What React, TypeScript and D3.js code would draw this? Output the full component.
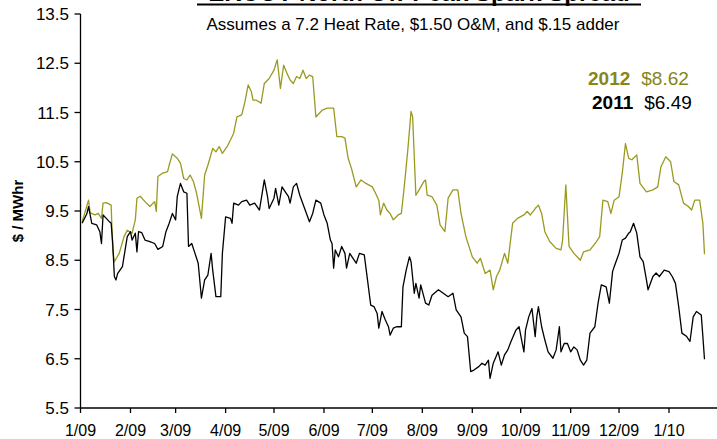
import React from "react";
import * as d3 from "d3";

const title = "ERCOT North Off-Peak Spark Spread";
const subtitle = "Assumes a 7.2 Heat Rate, $1.50 O&M, and $.15 adder";
const yTicks = [5.5, 6.5, 7.5, 8.5, 9.5, 10.5, 11.5, 12.5, 13.5];
const yLabel = "$ / MWhr";

const series2012: [string, number][] = [
  ["2009-01-02", 9.28], ["2009-01-06", 9.72], ["2009-01-07", 9.46], ["2009-01-10", 9.42], ["2009-01-12", 9.45],
  ["2009-01-14", 9.35], ["2009-01-15", 9.66], ["2009-01-17", 9.67], ["2009-01-20", 9.62], ["2009-01-21", 8.71],
  ["2009-01-22", 8.47], ["2009-01-25", 8.64], ["2009-01-28", 8.98], ["2009-01-30", 9.11], ["2009-02-02", 9.05],
  ["2009-02-04", 9.32], ["2009-02-05", 9.76], ["2009-02-07", 9.8], ["2009-02-10", 9.69], ["2009-02-13", 9.59],
  ["2009-02-16", 9.69], ["2009-02-17", 9.49], ["2009-02-18", 10.2], ["2009-02-21", 10.27], ["2009-02-24", 10.3],
  ["2009-02-25", 10.43], ["2009-02-27", 10.66], ["2009-03-02", 10.57], ["2009-03-04", 10.47], ["2009-03-06", 10.16],
  ["2009-03-08", 10.13], ["2009-03-10", 10.23], ["2009-03-12", 10.1], ["2009-03-14", 9.86], ["2009-03-17", 9.35],
  ["2009-03-19", 10.23], ["2009-03-21", 10.43], ["2009-03-24", 10.77], ["2009-03-26", 10.7], ["2009-03-28", 10.81],
  ["2009-03-30", 10.67], ["2009-04-02", 10.81], ["2009-04-04", 10.94], ["2009-04-06", 11.08], ["2009-04-08", 11.41],
  ["2009-04-11", 11.45], ["2009-04-13", 11.72], ["2009-04-15", 12.06], ["2009-04-17", 11.92], ["2009-04-18", 11.75],
  ["2009-04-20", 11.75], ["2009-04-23", 11.69], ["2009-04-25", 12.09], ["2009-04-28", 12.19], ["2009-05-01", 12.36],
  ["2009-05-03", 12.57], ["2009-05-05", 11.99], ["2009-05-07", 12.46], ["2009-05-09", 12.3], ["2009-05-11", 12.16],
  ["2009-05-13", 12.09], ["2009-05-15", 12.23], ["2009-05-17", 12.19], ["2009-05-19", 12.36], ["2009-05-21", 12.19],
  ["2009-05-23", 12.26], ["2009-05-25", 12.23], ["2009-05-27", 11.41], ["2009-05-29", 11.48], ["2009-05-31", 11.55],
  ["2009-06-03", 11.59], ["2009-06-07", 11.59], ["2009-06-09", 11.01], ["2009-06-12", 11.01], ["2009-06-14", 10.98],
  ["2009-06-16", 10.57], ["2009-06-18", 10.37], ["2009-06-21", 9.99], ["2009-06-24", 10.13], ["2009-06-27", 10.06],
  ["2009-07-01", 9.99], ["2009-07-03", 9.86], ["2009-07-05", 9.72], ["2009-07-06", 9.42], ["2009-07-08", 9.66],
  ["2009-07-10", 9.52], ["2009-07-12", 9.45], ["2009-07-14", 9.32], ["2009-07-17", 9.42], ["2009-07-19", 9.45],
  ["2009-07-21", 10.06], ["2009-07-23", 10.74], ["2009-07-25", 11.52], ["2009-07-26", 11.41], ["2009-07-27", 10.6],
  ["2009-07-28", 9.82], ["2009-07-30", 9.93], ["2009-08-02", 10.1], ["2009-08-03", 10.13], ["2009-08-04", 9.82],
  ["2009-08-07", 9.79], ["2009-08-10", 9.62], ["2009-08-12", 9.22], ["2009-08-15", 9.08], ["2009-08-17", 9.76],
  ["2009-08-20", 9.93], ["2009-08-23", 9.93], ["2009-08-25", 9.45], ["2009-08-28", 8.98], ["2009-09-01", 8.57],
  ["2009-09-04", 8.44], ["2009-09-06", 8.54], ["2009-09-09", 8.23], ["2009-09-12", 8.3], ["2009-09-14", 7.9],
  ["2009-09-16", 8.17], ["2009-09-18", 8.3], ["2009-09-21", 8.64], ["2009-09-23", 8.44], ["2009-09-24", 8.71],
  ["2009-09-26", 9.25], ["2009-09-29", 9.35], ["2009-10-03", 9.42], ["2009-10-05", 9.49], ["2009-10-07", 9.42],
  ["2009-10-10", 9.55], ["2009-10-12", 9.62], ["2009-10-14", 9.45], ["2009-10-16", 9.08], ["2009-10-19", 8.88],
  ["2009-10-23", 8.74], ["2009-10-26", 8.71], ["2009-10-27", 8.91], ["2009-10-29", 10.03], ["2009-10-31", 8.78],
  ["2009-11-03", 8.64], ["2009-11-07", 8.5], ["2009-11-09", 8.67], ["2009-11-13", 8.71], ["2009-11-17", 8.88],
  ["2009-11-19", 8.98], ["2009-11-21", 9.72], ["2009-11-24", 9.69], ["2009-11-26", 9.45], ["2009-11-28", 9.72],
  ["2009-12-01", 9.79], ["2009-12-03", 10.27], ["2009-12-05", 10.87], ["2009-12-07", 10.57], ["2009-12-09", 10.54],
  ["2009-12-12", 10.64], ["2009-12-14", 10.06], ["2009-12-18", 9.89], ["2009-12-22", 9.93], ["2009-12-25", 9.99],
  ["2009-12-27", 10.4], ["2009-12-30", 10.6], ["2010-01-02", 10.5], ["2010-01-04", 10.1], ["2010-01-07", 10.03],
  ["2010-01-10", 9.66], ["2010-01-13", 9.59], ["2010-01-15", 9.52], ["2010-01-17", 9.72], ["2010-01-20", 9.72],
  ["2010-01-22", 9.25], ["2010-01-23", 8.62],
];

const series2011: [string, number][] = [
  ["2009-01-02", 9.25], ["2009-01-05", 9.45], ["2009-01-06", 9.59], ["2009-01-08", 9.25], ["2009-01-11", 9.22],
  ["2009-01-13", 9.08], ["2009-01-14", 8.84], ["2009-01-15", 9.42], ["2009-01-17", 9.35], ["2009-01-19", 9.28],
  ["2009-01-20", 9.25], ["2009-01-21", 8.84], ["2009-01-22", 8.17], ["2009-01-23", 8.1], ["2009-01-24", 8.23],
  ["2009-01-27", 8.37], ["2009-01-30", 8.98], ["2009-02-01", 9.08], ["2009-02-02", 8.91], ["2009-02-04", 9.05],
  ["2009-02-05", 8.67], ["2009-02-06", 9.08], ["2009-02-08", 9.06], ["2009-02-10", 8.91], ["2009-02-13", 8.88],
  ["2009-02-16", 8.84], ["2009-02-18", 8.72], ["2009-02-21", 8.78], ["2009-02-23", 9.08], ["2009-02-25", 9.25],
  ["2009-02-27", 9.45], ["2009-03-01", 9.32], ["2009-03-02", 9.79], ["2009-03-04", 10.06], ["2009-03-06", 9.89],
  ["2009-03-08", 9.86], ["2009-03-09", 8.78], ["2009-03-11", 8.84], ["2009-03-13", 8.64], ["2009-03-15", 8.44],
  ["2009-03-17", 7.73], ["2009-03-19", 8.1], ["2009-03-21", 8.2], ["2009-03-23", 8.64], ["2009-03-24", 8.3],
  ["2009-03-26", 7.76], ["2009-03-29", 7.76], ["2009-03-30", 8.64], ["2009-04-01", 9.38], ["2009-04-04", 9.35],
  ["2009-04-05", 9.25], ["2009-04-06", 9.66], ["2009-04-09", 9.62], ["2009-04-11", 9.69], ["2009-04-14", 9.72],
  ["2009-04-16", 9.62], ["2009-04-19", 9.66], ["2009-04-22", 9.52], ["2009-04-24", 9.93], ["2009-04-25", 10.13],
  ["2009-04-27", 9.79], ["2009-04-28", 9.55], ["2009-05-01", 9.76], ["2009-05-02", 9.96], ["2009-05-04", 9.62],
  ["2009-05-06", 9.99], ["2009-05-08", 9.89], ["2009-05-10", 9.79], ["2009-05-11", 9.66], ["2009-05-13", 9.99],
  ["2009-05-15", 10.06], ["2009-05-17", 9.82], ["2009-05-20", 9.55], ["2009-05-23", 9.28], ["2009-05-25", 9.45],
  ["2009-05-27", 9.72], ["2009-05-30", 9.66], ["2009-06-01", 9.42], ["2009-06-03", 9.25], ["2009-06-05", 8.91],
  ["2009-06-06", 8.84], ["2009-06-07", 8.34], ["2009-06-08", 8.71], ["2009-06-10", 8.57], ["2009-06-12", 8.78],
  ["2009-06-14", 8.64], ["2009-06-15", 8.34], ["2009-06-17", 8.64], ["2009-06-19", 8.54], ["2009-06-21", 8.44],
  ["2009-06-23", 8.64], ["2009-06-26", 8.61], ["2009-06-28", 8.1], ["2009-06-30", 7.59], ["2009-07-02", 7.56],
  ["2009-07-04", 7.42], ["2009-07-05", 7.12], ["2009-07-07", 7.46], ["2009-07-09", 7.29], ["2009-07-11", 7.15],
  ["2009-07-12", 6.98], ["2009-07-14", 7.12], ["2009-07-16", 7.15], ["2009-07-19", 7.15], ["2009-07-20", 7.96],
  ["2009-07-22", 8.3], ["2009-07-24", 8.57], ["2009-07-25", 8.47], ["2009-07-27", 7.83], ["2009-07-28", 8.03],
  ["2009-07-30", 7.73], ["2009-07-31", 8.0], ["2009-08-03", 7.63], ["2009-08-05", 7.59], ["2009-08-07", 7.79],
  ["2009-08-11", 7.9], ["2009-08-14", 7.83], ["2009-08-17", 7.76], ["2009-08-20", 7.83], ["2009-08-22", 7.49],
  ["2009-08-25", 7.35], ["2009-08-27", 7.02], ["2009-08-29", 6.95], ["2009-08-31", 6.24], ["2009-09-02", 6.27],
  ["2009-09-05", 6.34], ["2009-09-07", 6.41], ["2009-09-09", 6.37], ["2009-09-11", 6.47], ["2009-09-12", 6.1],
  ["2009-09-14", 6.41], ["2009-09-17", 6.64], ["2009-09-19", 6.37], ["2009-09-21", 6.58], ["2009-09-23", 6.68],
  ["2009-09-25", 6.85], ["2009-09-28", 7.08], ["2009-09-30", 7.15], ["2009-10-01", 6.98], ["2009-10-03", 6.64],
  ["2009-10-04", 7.08], ["2009-10-06", 7.35], ["2009-10-08", 7.52], ["2009-10-10", 6.95], ["2009-10-11", 7.35],
  ["2009-10-12", 7.56], ["2009-10-14", 7.15], ["2009-10-16", 6.88], ["2009-10-18", 6.64], ["2009-10-21", 6.51],
  ["2009-10-23", 6.68], ["2009-10-25", 7.15], ["2009-10-26", 6.64], ["2009-10-28", 6.81], ["2009-10-30", 6.81],
  ["2009-11-01", 6.64], ["2009-11-03", 6.74], ["2009-11-05", 6.68], ["2009-11-07", 6.47], ["2009-11-09", 6.37],
  ["2009-11-11", 6.47], ["2009-11-13", 7.02], ["2009-11-16", 7.15], ["2009-11-18", 7.63], ["2009-11-20", 8.0],
  ["2009-11-23", 7.96], ["2009-11-25", 7.63], ["2009-11-27", 8.27], ["2009-11-28", 8.37], ["2009-12-01", 8.64],
  ["2009-12-03", 8.91], ["2009-12-05", 8.95], ["2009-12-07", 9.05], ["2009-12-08", 9.08], ["2009-12-10", 9.25],
  ["2009-12-12", 9.05], ["2009-12-14", 8.57], ["2009-12-16", 8.47], ["2009-12-18", 8.1], ["2009-12-19", 7.9],
  ["2009-12-22", 8.17], ["2009-12-24", 8.24], ["2009-12-26", 8.17], ["2009-12-29", 8.3], ["2010-01-01", 8.27],
  ["2010-01-03", 8.17], ["2010-01-05", 8.03], ["2010-01-07", 7.56], ["2010-01-09", 7.02], ["2010-01-12", 6.95],
  ["2010-01-14", 6.85], ["2010-01-16", 7.35], ["2010-01-18", 7.46], ["2010-01-21", 7.39], ["2010-01-22", 6.95],
  ["2010-01-23", 6.49],
];

const legendRows = [
  { year: "2012", value: "$8.62", color: "#86861a" },
  { year: "2011", value: "$6.49", color: "#000000" },
];

const W = 717;
const H = 439;
const FONT = "'Liberation Sans', Arial, sans-serif";

export default function App() {
  const parse = d3.timeParse("%Y-%m-%d");
  const start = new Date(2009, 0, 1);
  const end = new Date(2010, 1, 1);
  const x = d3.scaleTime().domain([start, end]).range([80.5, 719]);
  const y = d3.scaleLinear().domain([5.5, 13.5]).range([408, 14]);
  const line = d3
    .line<[string, number]>()
    .x((d) => x(parse(d[0]) as Date))
    .y((d) => y(d[1]));
  const months = d3.timeMonth.range(start, end);
  const fmt = d3.timeFormat("%-m/%y");
  const x0 = x.range()[0];
  const y0 = y.range()[0];

  return (
    <svg
      width={W}
      height={H}
      style={{ position: "absolute", left: 0, top: 0, background: "#fff" }}
      fontFamily={FONT}
    >
      <text x={419} y={1} textAnchor="middle" fontSize={24} fontWeight="bold">
        {title}
      </text>
      <line x1={197} x2={641} y1={4.5} y2={4.5} stroke="#000" strokeWidth={2} />
      <text x={413} y={30} textAnchor="middle" fontSize={17}>
        {subtitle}
      </text>

      {/* Y axis */}
      <line x1={x0} x2={x0} y1={y(13.5)} y2={y0} stroke="#000" strokeWidth={1.3} />
      {yTicks.map((t) => (
        <g key={t}>
          <line x1={x0 - 6} x2={x0} y1={y(t)} y2={y(t)} stroke="#000" strokeWidth={1.3} />
          <text x={69} y={y(t) + 6} textAnchor="end" fontSize={17}>
            {t.toFixed(1)}
          </text>
        </g>
      ))}
      <text
        transform={`translate(23,${y(9.5)}) rotate(-90)`}
        textAnchor="middle"
        fontSize={15}
        fontWeight="bold"
      >
        {yLabel}
      </text>

      {/* X axis */}
      <line x1={x0} x2={W} y1={y0} y2={y0} stroke="#000" strokeWidth={1.3} />
      {months.map((m) => (
        <g key={m.toISOString()}>
          <line x1={x(m)} x2={x(m)} y1={y0} y2={y0 + 5} stroke="#000" strokeWidth={1.3} />
          <text x={x(m)} y={436} textAnchor="middle" fontSize={16}>
            {fmt(m)}
          </text>
        </g>
      ))}

      <path d={line(series2012) || ""} fill="none" stroke="#9a9a22" strokeWidth={1.3} strokeLinejoin="round" />
      <path d={line(series2011) || ""} fill="none" stroke="#000" strokeWidth={1.3} strokeLinejoin="round" />

      {legendRows.map((r, i) => (
        <text key={r.year} x={i === 0 ? 588 : 592} y={85 + i * 24} fontSize={19} fill={r.color}>
          <tspan fontWeight="bold">{r.year}</tspan>
          <tspan dx={11}>{r.value}</tspan>
        </text>
      ))}
    </svg>
  );
}
